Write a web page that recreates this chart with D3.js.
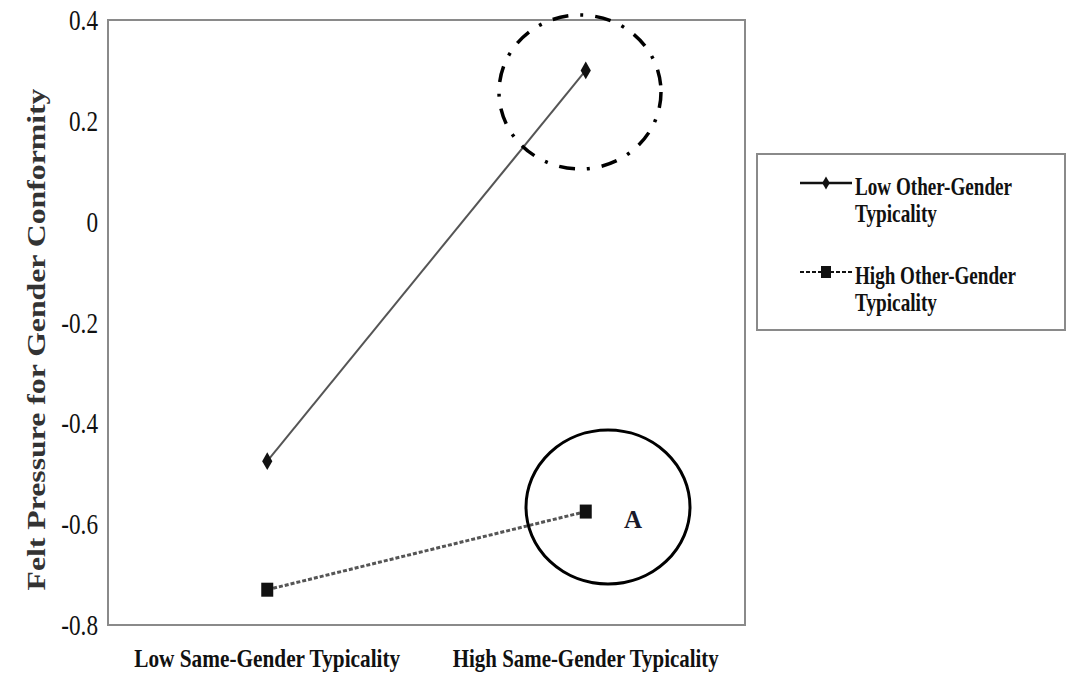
<!DOCTYPE html>
<html>
<head>
<meta charset="utf-8">
<script src="https://cdn.jsdelivr.net/npm/d3@7"></script>
<style>
  body { margin: 0; background: #fff; }
</style>
</head>
<body>
<div id="chart"></div>
<script>
// Data
const categories = ["Low Same-Gender Typicality", "High Same-Gender Typicality"];
const seriesNames = ["Low Other-Gender Typicality", "High Other-Gender Typicality"];
const lowOther = [-0.475, 0.3];
const highOther = [-0.73, -0.575];
const yTicks = [0.4, 0.2, 0, -0.2, -0.4, -0.6, -0.8];

const serif = "'Liberation Serif', 'Times New Roman', 'DejaVu Serif', serif";
const width = 1081, height = 677;
const plot = { left: 108, top: 20, right: 745, bottom: 625 };

const svg = d3.select("#chart").append("svg")
  .attr("width", width)
  .attr("height", height);

const x = d3.scalePoint().domain(categories).range([plot.left, plot.right]).padding(0.5);
const y = d3.scaleLinear().domain([-0.8, 0.4]).range([plot.bottom, plot.top]);

// plot frame
svg.append("rect")
  .attr("x", plot.left).attr("y", plot.top)
  .attr("width", plot.right - plot.left).attr("height", plot.bottom - plot.top)
  .attr("fill", "none").attr("stroke", "#8a8a8a").attr("stroke-width", 2);

// y axis labels (no tick marks), narrow tall digits
const squeeze = 0.8;
const yAxis = svg.append("g")
  .attr("transform", `translate(${plot.left},0)`)
  .call(d3.axisLeft(y).tickValues(yTicks).tickSize(0)
    .tickFormat(d => d === 0 ? "0" : d.toFixed(1)));
yAxis.select(".domain").remove();
yAxis.selectAll("text")
  .style("font-family", serif)
  .style("font-size", "29px")
  .style("fill", "#111")
  .attr("x", -10 / squeeze)
  .attr("dy", "0.33em")
  .attr("transform", `scale(${squeeze},1)`);

// x category labels
svg.append("g").selectAll("text")
  .data(categories)
  .join("text")
  .attr("x", d => x(d))
  .attr("y", 667)
  .attr("text-anchor", "middle")
  .style("font-family", serif)
  .style("font-size", "26px")
  .style("font-weight", "bold")
  .style("fill", "#111")
  .attr("textLength", 266)
  .attr("lengthAdjust", "spacingAndGlyphs")
  .text(d => d);

// y title
svg.append("text")
  .attr("transform", `translate(45,${(plot.top + plot.bottom) / 2 + 17}) rotate(-90)`)
  .attr("text-anchor", "middle")
  .style("font-family", serif)
  .style("font-size", "25px")
  .style("font-weight", "bold")
  .style("fill", "#333")
  .attr("textLength", 502)
  .attr("lengthAdjust", "spacingAndGlyphs")
  .text("Felt Pressure for Gender Conformity");

const line = d3.line().x((d, i) => x(categories[i])).y(d => y(d));

// low other-gender: solid with diamonds
svg.append("path").datum(lowOther)
  .attr("d", line)
  .attr("fill", "none").attr("stroke", "#555").attr("stroke-width", 2);
const diamond = d3.symbol().type(d3.symbolDiamond).size(90);
svg.selectAll(".dmd").data(lowOther).join("path")
  .attr("class", "dmd")
  .attr("transform", (d, i) => `translate(${x(categories[i])},${y(d)})`)
  .attr("d", diamond)
  .attr("fill", "#111");

// high other-gender: dashed with squares
svg.append("path").datum(highOther)
  .attr("d", line)
  .attr("fill", "none").attr("stroke", "#555").attr("stroke-width", 3)
  .attr("stroke-dasharray", "4,2");
svg.selectAll(".sq").data(highOther).join("rect")
  .attr("class", "sq")
  .attr("x", (d, i) => x(categories[i]) - 6)
  .attr("y", d => y(d) - 7)
  .attr("width", 12).attr("height", 14)
  .attr("fill", "#111");

// annotation circles
svg.append("ellipse")
  .attr("cx", 580).attr("cy", 92).attr("rx", 81).attr("ry", 77)
  .attr("fill", "none").attr("stroke", "#000").attr("stroke-width", 3.5)
  .attr("stroke-dasharray", "16,12,3,12");
svg.append("ellipse")
  .attr("cx", 608).attr("cy", 507).attr("rx", 82).attr("ry", 77)
  .attr("fill", "none").attr("stroke", "#000").attr("stroke-width", 3);
svg.append("text")
  .attr("x", 633).attr("y", 528)
  .attr("text-anchor", "middle")
  .style("font-family", serif)
  .style("font-size", "25px").style("font-weight", "bold")
  .style("fill", "#1a1a2a")
  .text("A");

// legend
const lg = svg.append("g");
lg.append("rect")
  .attr("x", 757).attr("y", 154).attr("width", 308).attr("height", 176)
  .attr("fill", "#fff").attr("stroke", "#8a8a8a").attr("stroke-width", 2);

const legendRows = [
  { name: seriesNames[0], y: 183, dash: null, marker: "diamond", w: 157 },
  { name: seriesNames[1], y: 272, dash: "4,2", marker: "square", w: 161 }
];
legendRows.forEach(r => {
  lg.append("line")
    .attr("x1", 800).attr("x2", 852).attr("y1", r.y).attr("y2", r.y)
    .attr("stroke", "#111").attr("stroke-width", r.dash ? 2 : 2.5)
    .attr("stroke-dasharray", r.dash);
  if (r.marker === "diamond") {
    lg.append("path").attr("d", d3.symbol().type(d3.symbolDiamond).size(50)())
      .attr("transform", `translate(826,${r.y})`).attr("fill", "#111");
  } else {
    lg.append("rect").attr("x", 821).attr("y", r.y - 6).attr("width", 10).attr("height", 12)
      .attr("fill", "#111");
  }
  const words = r.name.split(" ");
  const t = lg.append("text").attr("x", 855).attr("y", r.y + 12)
    .style("font-family", serif)
    .style("font-size", "25px").style("font-weight", "bold").style("fill", "#111");
  t.append("tspan").attr("x", 855).text(words.slice(0, 2).join(" "))
    .attr("textLength", r.w).attr("lengthAdjust", "spacingAndGlyphs");
  t.append("tspan").attr("x", 855).attr("dy", 27).text(words[2])
    .attr("textLength", 82).attr("lengthAdjust", "spacingAndGlyphs");
});
</script>
</body>
</html>
